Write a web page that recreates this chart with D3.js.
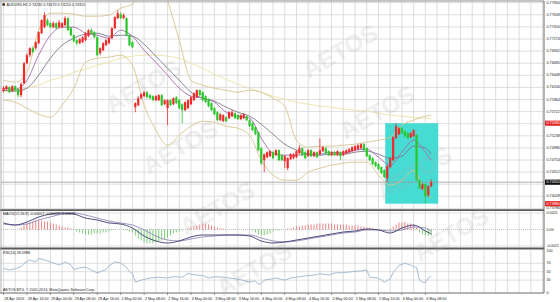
<!DOCTYPE html>
<html><head><meta charset="utf-8">
<script src="https://cdn.jsdelivr.net/npm/d3@7"></script>
<style>html,body{margin:0;padding:0;background:#fff;overflow:hidden}</style>
</head><body><svg id="c" width="560" height="302"></svg>
<script>
// ---------- DATA ----------
const symbolTitle = "AUDUSD,H1  0.74230 0.74370 0.74210 0.74310";
const open = [.7613,.7617,.7621,.7613,.7623,.7617,.7605,.7629,.7669,.7685,
.7699,.7699,.7709,.7729,.7741,.7755,.7749,.7741,.7749,.7741,
.7741,.7745,.7759,.7739,.7725,.7715,.7709,.7711,.7715,.7723,
.7735,.7731,.7721,.7689,.7695,.7705,.7709,.7719,.7739,.7759,
.7767,.7759,.7759,.7725,.7711,.7581,.7585,.7599,.7603,.7611,
.7605,.7603,.7595,.7595,.7605,.7587,.7579,.7595,.7587,.7601,
.7595,.7587,.7575,.7579,.7587,.7595,.7601,.7615,.7611,.7603,
.7597,.7589,.7579,.7571,.7555,.7553,.7561,.7559,.7563,.7569,
.7565,.7557,.7559,.7563,.7555,.7549,.7541,.7531,.7499,.7475,
.7481,.7483,.7491,.7485,.7495,.7485,.7473,.7459,.7477,.7479,
.7481,.7489,.7499,.7491,.7483,.7495,.7483,.7491,.7487,.7493,
.7499,.7493,.7485,.7491,.7485,.7491,.7485,.7489,.7491,.7493,
.7495,.7497,.7499,.7507,.7499,.7485,.7479,.7471,.7467,.7461,
.7455,.7439,.7461,.7475,.7519,.7527,.7539,.7533,.7529,.7521,
.7523,.7525,.7435,.7417,.7427,.7405,.7423];
const close = [.7619,.7623,.7611,.7623,.7615,.7605,.7627,.7669,.7685,.7699,
.7691,.7711,.7731,.7755,.7765,.7745,.7741,.7749,.7739,.7751,
.7749,.7759,.7735,.7725,.7713,.7709,.7717,.7721,.7729,.7735,
.7729,.7721,.7685,.7699,.7709,.7715,.7719,.7739,.7761,.7769,
.7759,.7765,.7725,.7705,.7701,.7589,.7599,.7607,.7611,.7601,
.7599,.7595,.7603,.7605,.7585,.7595,.7595,.7585,.7599,.7589,
.7579,.7575,.7591,.7595,.7601,.7609,.7615,.7605,.7595,.7591,
.7583,.7575,.7567,.7555,.7567,.7565,.7553,.7571,.7571,.7559,
.7557,.7565,.7567,.7555,.7543,.7535,.7527,.7495,.7469,.7487,
.7491,.7493,.7479,.7495,.7475,.7475,.7483,.7479,.7487,.7487,
.7493,.7499,.7485,.7479,.7495,.7483,.7491,.7481,.7495,.7501,
.7489,.7485,.7491,.7485,.7493,.7483,.7493,.7495,.7497,.7501,
.7503,.7505,.7507,.7495,.7483,.7475,.7467,.7463,.7457,.7449,
.7441,.7463,.7479,.7521,.7543,.7539,.7529,.7523,.7519,.7529,
.7535,.7435,.7419,.7427,.7403,.7423,.7431];
const high = [.7623,.7625,.7623,.7625,.7625,.7619,.7631,.7671,.7689,.7701,
.7703,.7713,.7733,.7757,.7771,.7759,.7751,.7753,.7751,.7755,
.7751,.7763,.7761,.7741,.7727,.7717,.7719,.7723,.7731,.7737,
.7739,.7733,.7723,.7701,.7711,.7717,.7721,.7741,.7763,.7775,
.7771,.7769,.7761,.7727,.7713,.7591,.7603,.7609,.7613,.7613,
.7607,.7605,.7605,.7607,.7607,.7597,.7597,.7597,.7601,.7603,
.7597,.7589,.7593,.7597,.7603,.7611,.7617,.7617,.7613,.7605,
.7599,.7591,.7581,.7573,.7569,.7567,.7563,.7573,.7575,.7571,
.7567,.7567,.7569,.7565,.7557,.7551,.7543,.7533,.7501,.7489,
.7493,.7495,.7493,.7497,.7497,.7487,.7485,.7481,.7489,.7489,
.7495,.7505,.7501,.7493,.7497,.7497,.7493,.7493,.7519,.7503,
.7501,.7495,.7493,.7493,.7495,.7493,.7495,.7497,.7499,.7503,
.7505,.7507,.7509,.7509,.7501,.7487,.7481,.7473,.7469,.7463,
.7457,.7465,.7481,.7523,.7549,.7541,.7541,.7535,.7531,.7531,
.7537,.7527,.7437,.7429,.7429,.7425,.7437];
const low = [.7611,.7615,.7609,.7611,.7613,.7601,.7601,.7627,.7667,.7681,
.7689,.7695,.7707,.7727,.7739,.7743,.7739,.7739,.7737,.7739,
.7739,.7743,.7733,.7723,.7711,.7705,.7707,.7709,.7713,.7721,
.7727,.7719,.7683,.7685,.7693,.7703,.7707,.7717,.7737,.7757,
.7757,.7757,.7723,.7703,.7699,.7571,.7583,.7597,.7601,.7599,
.7597,.7593,.7593,.7593,.7583,.7585,.7545,.7583,.7585,.7587,
.7577,.7549,.7573,.7577,.7585,.7593,.7599,.7603,.7593,.7589,
.7581,.7573,.7565,.7553,.7553,.7551,.7551,.7557,.7561,.7557,
.7555,.7555,.7557,.7553,.7541,.7533,.7525,.7493,.7465,.7451,
.7479,.7481,.7477,.7483,.7473,.7473,.7459,.7455,.7475,.7477,
.7479,.7487,.7483,.7477,.7481,.7481,.7481,.7479,.7485,.7491,
.7487,.7483,.7483,.7483,.7483,.7475,.7483,.7487,.7489,.7491,
.7493,.7495,.7497,.7493,.7481,.7473,.7465,.7461,.7455,.7447,
.7439,.7431,.7459,.7473,.7517,.7525,.7527,.7521,.7517,.7519,
.7521,.7433,.7417,.7415,.7389,.7401,.7421];

// indicator samples (bar index -> value)
const lineIdx = [0,4,8,12,16,20,24,28,32,36,40,44,48,52,56,60,64,68,72,76,80,84,88,92,96,100,104,108,112,116,120,124,128,132,136,140,144,146];
const maFast = [.7619,.7617,.7635,.7685,.7725,.7741,.7741,.7729,.7725,.7719,.7735,.7723,.7695,.7671,.7645,.7619,.7603,.7599,.7591,.7571,.7563,.7559,.7519,.7489,.7485,.7485,.7487,.7487,.7491,.7489,.7495,.7497,.7481,.7465,.7491,.7515,.7491,.7475];
const maSlow = [.7615,.7613,.7619,.7645,.7679,.7705,.7719,.7727,.7729,.7723,.7725,.7723,.7707,.7683,.7659,.7635,.7611,.7599,.7593,.7581,.7571,.7563,.7547,.7527,.7507,.7495,.7487,.7485,.7487,.7487,.7491,.7493,.7487,.7479,.7483,.7503,.7499,.7487];
const bbUpper = [.7635,.7631,.7651,.7735,.7769,.7769,.7767,.7763,.7763,.7765,.7779,.7787,.7855,.7875,.7795,.7715,.7635,.7625,.7619,.7615,.7611,.7615,.7611,.7599,.7583,.7515,.7501,.7503,.7503,.7505,.7507,.7511,.7515,.7521,.7545,.7555,.7563,.7565];
const bbLower = [.7595,.7591,.7579,.7567,.7561,.7585,.7619,.7671,.7679,.7681,.7685,.7665,.7585,.7535,.7505,.7525,.7543,.7553,.7551,.7543,.7539,.7525,.7475,.7445,.7435,.7435,.7451,.7459,.7465,.7469,.7471,.7471,.7445,.7425,.7435,.7455,.7411,.7399];
const maLong = [.7611,.7615,.7619,.7625,.7635,.7641,.7651,.7657,.7665,.7671,.7679,.7683,.7685,.7685,.7683,.7679,.7669,.7659,.7647,.7637,.7627,.7619,.7611,.7603,.7597,.7591,.7587,.7583,.7581,.7577,.7575,.7573,.7569,.7565,.7563,.7561,.7559,.7559];
const macdMain = [0.00083,0.00057,0.00095,0.00159,0.00197,0.00210,0.00197,0.00146,0.00121,0.00083,0.00070,0.00019,-0.00083,-0.00146,-0.00172,-0.00146,-0.00095,-0.00070,-0.00070,-0.00070,-0.00070,-0.00083,-0.00146,-0.00172,-0.00159,-0.00134,-0.00108,-0.00083,-0.00057,-0.00032,-0.00019,0.00006,-0.00006,-0.00045,0.00019,0.00057,-0.00019,-0.00057];
const macdSignal = [0.00070,0.00057,0.00070,0.00121,0.00159,0.00197,0.00210,0.00184,0.00146,0.00108,0.00083,0.00057,-0.00006,-0.00083,-0.00134,-0.00146,-0.00121,-0.00095,-0.00083,-0.00070,-0.00070,-0.00070,-0.00108,-0.00146,-0.00159,-0.00146,-0.00121,-0.00095,-0.00070,-0.00045,-0.00032,-0.00006,-0.00006,-0.00019,-0.00006,0.00032,0.00019,-0.00019];
const macdHist = [0.00003,0.00003,0,0.00003,0,-0.00003,
0.00025,0.00051,0.00076,0.00089,0.00102,0.00114,0.00114,0.00114,0.00102,0.00102,0.00089,0.00076,0.00064,0.00051,0.00038,0.00025,0.00025,0.00013,
-0.00013,-0.00025,-0.00038,-0.00051,-0.00064,-0.00064,-0.00064,-0.00051,-0.00051,-0.00051,-0.00038,-0.00038,-0.00025,
-0.00013,-0.00006,0,0,-0.00006,-0.00013,-0.00025,
-0.00038,-0.00076,-0.00114,-0.0014,-0.00165,-0.00178,-0.00178,-0.00178,-0.00165,-0.00153,-0.0014,-0.00127,-0.00102,-0.00076,
-0.00051,-0.00038,-0.00025,-0.00013,0,
0.00013,0.00025,0.00038,0.00051,0.00064,0.00076,0.00076,0.00064,0.00051,
0.00038,0.00025,0.00013,0.00013,0,0,-0.00006,-0.00006,0,0,0,0,-0.00006,
-0.00013,-0.00038,-0.00064,-0.00076,-0.00076,-0.00064,-0.00051,
-0.00025,-0.00013,-0.00013,0,0,0.00013,0.00013,
0.00025,0.00038,0.00038,0.00051,0.00051,0.00064,0.00064,0.00064,0.00076,0.00076,0.00076,0.00076,0.00076,0.00076,0.00064,0.00064,0.00064,0.00064,0.00064,0.00051,0.00051,0.00051,0.00051,0.00038,0.00038,0.00025,0.00025,
0.00013,0,0,-0.00013,-0.00013,0,0.00013,
0.00038,0.00064,0.00089,0.00089,0.00095,0.00076,0.00076,0.00064,0.00025,
-0.00038,-0.00064,-0.00076,-0.00076,-0.00076];
const rsiIdx = [0,2,4,6,7,9,11,12,14,16,19,21,23,24,26,28,30,32,33,35,36,38,40,42,43,44,45,47,50,53,56,58,61,63,64,66,68,70,72,75,77,79,81,84,86,87,88,89,91,93,96,98,100,103,106,108,111,113,116,119,122,124,125,128,130,132,133,135,137,139,140,141,142,143,144,145,146];
const rsiVal = [58,54,57,62,70,78,73,82,78,73,66,73,66,55,59,61,54,47,50,55,64,73,71,60,50,46,25,30,35,37,35,38,37,46,44,42,41,35,38,37,35,33,31,25,28,20,22,30,32,35,30,35,37,40,42,45,42,47,48,50,52,54,37,35,25,33,48,65,70,66,62,60,30,25,24,35,39];

// axis / labels
const priceTicks = [0.77900,0.77658,0.77416,0.77174,0.76932,0.76690,0.76448,0.76206,0.75964,0.75722,0.75480,0.75238,0.74996,0.74754,0.74512,0.74270,0.74028,0.73786];
const macdTicks = [0.0021,0,-0.0021];
const macdTickLabels = ["0.0021","0.00","-0.0021"];
const rsiTicks = [100,70,50,30,0];
const timeLabelIdx = [0,8,16,24,32,40,48,56,64,72,80,88,96,104,112,120,128,136,144];
const timeLabels = ["28 Apr 2016","28 Apr 16:00","29 Apr 00:00","29 Apr 08:00","29 Apr 16:00","2 May 00:00","2 May 08:00","2 May 16:00","3 May 00:00","3 May 08:00","3 May 16:00","4 May 00:00","4 May 08:00","4 May 16:00","5 May 00:00","5 May 08:00","5 May 16:00","6 May 00:00","6 May 08:00"];
const boxRange = {from:130.3, to:148.4, top:0.7549, bottom:0.7388};
const redLevels = [0.7549, 0.7388];
const bidPrice = 0.7431;
const macdText = "MACD(12,26,9) -0.00057 -0.00019 -0.00076";
const rsiText = "RSI(14) 39.0988";
const footText = "AETOS MT4, \u00a9 2001-2014, MetaQuotes Software Corp.";
const watermarkText = "AETOS";

// ---------- DRAW ----------
const svg = d3.select('#c');
const FONT = "'Liberation Sans', Arial, sans-serif";
const FS = 3.7;
const x = d3.scaleLinear().domain([0,184.5]).range([3.5,544]);
const yMain = d3.scaleLinear().domain([0.73774,0.7790]).range([209,2.7]);
const yMacd = d3.scaleLinear().domain([-0.0021,0.0021]).range([246,213]);
const yRsi = d3.scaleLinear().domain([0,100]).range([292.7,250.7]);

svg.append('rect').attr('width',560).attr('height',302).attr('fill','#fff');
const defs = svg.append('defs');
const panels = [{id:'pm',y0:1,y1:209.5},{id:'pd',y0:211,y1:247.5},{id:'pr',y0:249.5,y1:293}];
panels.forEach(p=>defs.append('clipPath').attr('id',p.id).append('rect')
  .attr('x',1).attr('y',p.y0).attr('width',543).attr('height',p.y1-p.y0));

// grid
const grid = svg.append('g').attr('stroke','#d6d6d6').attr('stroke-width',0.8);
d3.range(0,185,4).forEach(i=>{
  panels.forEach(p=>grid.append('line').attr('x1',x(i)).attr('x2',x(i)).attr('y1',p.y0).attr('y2',p.y1));
});
priceTicks.forEach(v=>grid.append('line').attr('x1',1).attr('x2',544).attr('y1',yMain(v)).attr('y2',yMain(v)));
macdTicks.filter(v=>v!==0).forEach(v=>grid.append('line').attr('x1',1).attr('x2',544).attr('y1',yMacd(v)).attr('y2',yMacd(v)));
rsiTicks.filter(v=>v>0&&v<100).forEach(v=>grid.append('line').attr('x1',1).attr('x2',544).attr('y1',yRsi(v)).attr('y2',yRsi(v)));

// main panel
const gm = svg.append('g').attr('clip-path','url(#pm)');
gm.append('rect').attr('x',x(boxRange.from)).attr('width',x(boxRange.to)-x(boxRange.from))
  .attr('y',yMain(boxRange.top)).attr('height',yMain(boxRange.bottom)-yMain(boxRange.top)).attr('fill','#46dcd4');
gm.append('line').attr('x1',1).attr('x2',544).attr('y1',yMain(bidPrice)).attr('y2',yMain(bidPrice)).attr('stroke','#9a9a9a').attr('stroke-width',0.8);

const mkLine = (ys, ysc) => d3.line().x((d,i)=>x(lineIdx[i])).y(d=>ysc(d)).curve(d3.curveMonotoneX)(ys);
[[maLong,'#ece2a8',0.9],[bbUpper,'#d8c48e',0.9],[bbLower,'#d8c48e',0.9],[maSlow,'#7a7a8c',0.9],[maFast,'#a46ab0',0.9]]
 .forEach(([d,c,w])=>gm.append('path').attr('d',mkLine(d,yMain)).attr('fill','none').attr('stroke',c).attr('stroke-width',w));

const cg = gm.append('g');
open.forEach((o,i)=>{
  const c = close[i], up = c>=o, col = up ? '#ee2a2a' : '#2bc62b';
  const cx = x(i);
  cg.append('line').attr('x1',cx).attr('x2',cx).attr('y1',yMain(high[i])).attr('y2',yMain(low[i])).attr('stroke',col).attr('stroke-width',0.8);
  const yt = yMain(Math.max(o,c)), yb = yMain(Math.min(o,c));
  cg.append('rect').attr('x',cx-1.1).attr('width',2.2).attr('y',yt).attr('height',Math.max(0.8,yb-yt)).attr('fill',col);
});

// MACD panel
const gd = svg.append('g').attr('clip-path','url(#pd)');
gd.append('line').attr('x1',1).attr('x2',544).attr('y1',yMacd(0)).attr('y2',yMacd(0)).attr('stroke','#aaa').attr('stroke-width',0.7).attr('stroke-dasharray','1,1');
macdHist.forEach((h,i)=>{
  if(h===0) return;
  gd.append('line').attr('x1',x(i)).attr('x2',x(i)).attr('y1',yMacd(0)).attr('y2',yMacd(h))
    .attr('stroke', h>0 ? '#e46464' : '#5cc05c').attr('stroke-width',0.8);
});
gd.append('path').attr('d',mkLine(macdSignal,yMacd)).attr('fill','none').attr('stroke','#9488b8').attr('stroke-width',0.9);
gd.append('path').attr('d',mkLine(macdMain,yMacd)).attr('fill','none').attr('stroke','#3a3a6e').attr('stroke-width',0.9);

// RSI panel
const gr = svg.append('g').attr('clip-path','url(#pr)');
gr.append('path').attr('d',d3.line().x((d,i)=>x(rsiIdx[i])).y(d=>yRsi(d))(rsiVal)).attr('fill','none').attr('stroke','#9cb6ce').attr('stroke-width',0.9);

// frames & separators
svg.append('line').attr('x1',0).attr('x2',544).attr('y1',1).attr('y2',1).attr('stroke','#8a8a8a').attr('stroke-width',1);
svg.append('line').attr('x1',0).attr('x2',544).attr('y1',210.2).attr('y2',210.2).attr('stroke','#5a5a5a').attr('stroke-width',1.8);
svg.append('line').attr('x1',0).attr('x2',544).attr('y1',248.5).attr('y2',248.5).attr('stroke','#5a5a5a').attr('stroke-width',1.8);
svg.append('line').attr('x1',0).attr('x2',544).attr('y1',293).attr('y2',293).attr('stroke','#6a6a6a').attr('stroke-width',1);
svg.append('line').attr('x1',544).attr('x2',544).attr('y1',1).attr('y2',293).attr('stroke','#6a6a6a').attr('stroke-width',1);
svg.append('line').attr('x1',1).attr('x2',1).attr('y1',1).attr('y2',293).attr('stroke','#9a9a9a').attr('stroke-width',0.8);

// text helper
const txt = (g,xx,yy,s,opt={}) => g.append('text').attr('x',xx).attr('y',yy).text(s)
  .attr('font-family',FONT).attr('font-size',opt.fs||FS).attr('fill',opt.fill||'#222')
  .attr('dominant-baseline',opt.db||'central').attr('text-anchor',opt.anchor||'start');
const tg = svg.append('g');

// right axis labels main
const specials = redLevels.concat([bidPrice]);
const f5 = d3.format('.5f');
priceTicks.forEach(v=>{
  if (specials.some(s=>Math.abs(yMain(s)-yMain(v))<4.5)) return;
  txt(tg,546.5,yMain(v),f5(v));
});
redLevels.forEach(v=>{
  tg.append('rect').attr('x',545).attr('y',yMain(v)-2.6).attr('width',15).attr('height',5.2).attr('fill','#e32626');
  txt(tg,546.5,yMain(v),f5(v),{fill:'#fff'});
});
tg.append('rect').attr('x',545).attr('y',yMain(bidPrice)-2.6).attr('width',15).attr('height',5.2).attr('fill','#111');
txt(tg,546.5,yMain(bidPrice),f5(bidPrice),{fill:'#fff'});
macdTicks.forEach((v,i)=>txt(tg,546.5,yMacd(v),macdTickLabels[i]));
rsiTicks.forEach(v=>txt(tg,546.5,yRsi(v),String(v)));

// time axis
timeLabelIdx.forEach((ix,i)=>{
  svg.append('line').attr('x1',x(ix)).attr('x2',x(ix)).attr('y1',293).attr('y2',295).attr('stroke','#555').attr('stroke-width',0.6);
  txt(tg,x(ix)+0.8,298.5,timeLabels[i]);
});

// titles
tg.append('rect').attr('x',2.5).attr('y',3.3).attr('width',2.4).attr('height',2.4).attr('fill','#222');
txt(tg,6.5,4.6,symbolTitle);
txt(tg,3,213.6,macdText);
txt(tg,3,252.6,rsiText);
txt(tg,3,290.2,footText);

// watermark (only fully visible copies)
const wm = svg.append('g').attr('pointer-events','none');
for (let i=-3;i<=3;i++) for (let j=-4;j<=4;j++){
  const cx = 180 + i*197 + j*37, cy = 147 - i*35 + j*61;
  if (cx<44||cx>516||cy<30||cy>272) continue;
  wm.append('text').attr('transform',`translate(${cx},${cy}) rotate(-30)`)
    .attr('text-anchor','middle').attr('dominant-baseline','central')
    .attr('font-family',FONT).attr('font-weight','bold').attr('font-size',24)
    .attr('fill','#a8a8a8').attr('opacity',0.16).text(watermarkText);
}
</script></body></html>
